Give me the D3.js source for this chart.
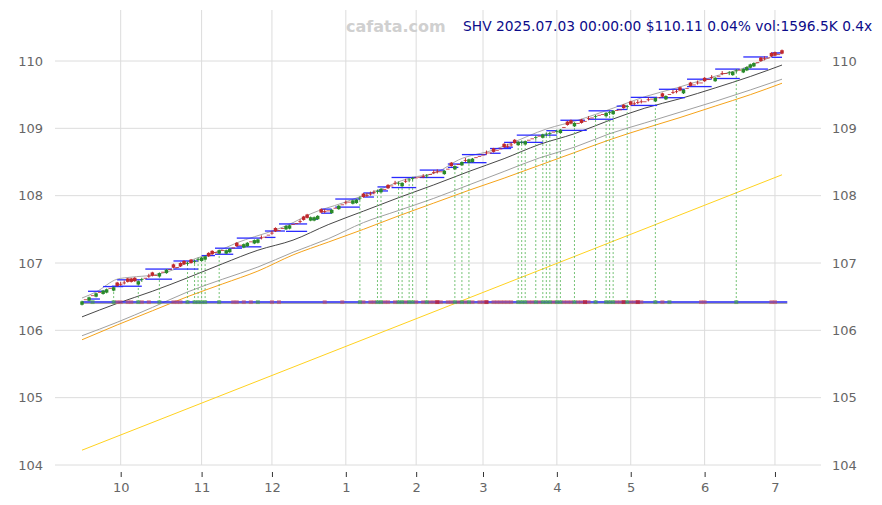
<!DOCTYPE html>
<html><head><meta charset="utf-8">
<script src="https://cdn.jsdelivr.net/npm/d3@7"></script>
<style>body{margin:0;background:#fff;}svg{display:block;font-family:"DejaVu Sans",sans-serif;}</style>
</head><body>
<svg id="chart" width="882" height="505"></svg>
<script>
// ---- DATA (trading-day index 0 = 2024-09-16 ... 199 = 2025-07-03) ----
const closes = [106.43,106.46,106.49,106.52,106.55,106.57,106.59,106.61,106.63,106.64,
106.66,106.68,106.70,106.72,106.72,106.73,106.73,106.76,106.78,106.80,
106.81,106.82,106.85,106.87,106.90,106.91,106.93,106.94,106.95,106.98,
107.00,107.00,107.03,107.06,107.08,107.10,107.10,107.13,107.16,107.19,
107.19,107.19,107.21,107.23,107.25,107.27,107.28,107.30,107.32,107.34,
107.35,107.37,107.39,107.42,107.44,107.47,107.49,107.52,107.55,107.56,
107.58,107.59,107.61,107.64,107.67,107.68,107.68,107.70,107.75,107.76,
107.78,107.79,107.82,107.85,107.87,107.89,107.91,107.93,107.94,107.97,
107.98,108.00,108.02,108.04,108.07,108.10,108.10,108.11,108.15,108.18,
108.19,108.19,108.21,108.24,108.26,108.27,108.28,108.28,108.30,108.32,
108.34,108.35,108.36,108.37,108.40,108.44,108.44,108.47,108.50,108.52,
108.54,108.55,108.57,108.59,108.61,108.63,108.64,108.65,108.68,108.70,
108.72,108.73,108.75,108.78,108.80,108.80,108.81,108.83,108.85,108.87,
108.89,108.91,108.92,108.93,108.95,108.96,108.98,109.02,109.05,109.07,
109.08,109.08,109.08,109.11,109.14,109.16,109.18,109.20,109.21,109.23,
109.24,109.26,109.27,109.28,109.30,109.33,109.35,109.36,109.38,109.39,
109.40,109.42,109.44,109.45,109.46,109.47,109.48,109.51,109.53,109.54,
109.56,109.57,109.60,109.63,109.65,109.67,109.68,109.70,109.73,109.75,
109.75,109.78,109.81,109.82,109.83,109.84,109.86,109.87,109.88,109.91,
109.95,109.97,109.98,110.00,110.03,110.05,110.07,110.08,110.10,110.11];
const opens = [106.38,106.46,106.44,106.52,106.50,106.57,106.54,106.56,106.63,106.59,
106.71,106.69,106.71,106.77,106.77,106.78,106.68,106.75,106.78,106.81,
106.86,106.82,106.80,106.87,106.85,106.91,106.98,106.94,107.00,107.03,
106.99,107.05,107.02,107.05,107.03,107.05,107.15,107.18,107.16,107.14,
107.19,107.14,107.16,107.23,107.30,107.27,107.23,107.25,107.32,107.29,
107.30,107.38,107.39,107.42,107.45,107.52,107.49,107.52,107.50,107.51,
107.58,107.59,107.62,107.69,107.72,107.63,107.63,107.65,107.80,107.77,
107.78,107.74,107.82,107.80,107.87,107.90,107.91,107.88,107.89,107.96,
108.03,108.01,108.03,108.05,108.06,108.05,108.10,108.16,108.15,108.19,
108.18,108.14,108.22,108.23,108.25,108.27,108.28,108.29,108.29,108.32,
108.35,108.36,108.36,108.32,108.40,108.49,108.39,108.47,108.45,108.53,
108.49,108.50,108.57,108.59,108.61,108.64,108.64,108.70,108.68,108.70,
108.77,108.74,108.76,108.83,108.75,108.79,108.76,108.83,108.85,108.86,
108.89,108.86,108.91,108.92,108.95,108.95,108.93,109.02,109.10,109.12,
109.03,109.08,109.13,109.11,109.15,109.16,109.17,109.20,109.21,109.18,
109.23,109.21,109.27,109.28,109.35,109.32,109.40,109.37,109.39,109.40,
109.40,109.43,109.44,109.40,109.46,109.52,109.43,109.51,109.54,109.55,
109.61,109.52,109.60,109.68,109.65,109.68,109.68,109.75,109.73,109.76,
109.70,109.78,109.82,109.82,109.82,109.79,109.85,109.87,109.83,109.86,
109.90,109.92,109.98,110.05,110.04,110.05,110.12,110.13,110.10,110.16];
const highs = [106.44,106.46,106.50,106.52,106.56,106.57,106.60,106.62,106.63,106.65,
106.72,106.72,106.74,106.78,106.78,106.79,106.74,106.78,106.78,106.84,
106.87,106.82,106.86,106.87,106.91,106.91,106.99,106.94,107.01,107.04,
107.02,107.06,107.05,107.08,107.09,107.11,107.16,107.19,107.16,107.20,
107.19,107.20,107.22,107.23,107.31,107.27,107.29,107.31,107.32,107.35,
107.36,107.41,107.39,107.42,107.48,107.53,107.49,107.52,107.56,107.57,
107.58,107.59,107.65,107.70,107.73,107.69,107.69,107.71,107.81,107.80,
107.78,107.80,107.82,107.86,107.87,107.93,107.91,107.94,107.95,107.99,
108.04,108.04,108.06,108.08,108.09,108.11,108.10,108.17,108.15,108.22,
108.21,108.20,108.25,108.26,108.28,108.27,108.28,108.32,108.32,108.32,
108.38,108.39,108.36,108.38,108.40,108.50,108.45,108.47,108.51,108.56,
108.55,108.56,108.57,108.59,108.61,108.67,108.64,108.71,108.68,108.70,
108.78,108.77,108.79,108.84,108.81,108.82,108.82,108.83,108.85,108.89,
108.89,108.92,108.94,108.95,108.95,108.98,108.99,109.02,109.11,109.13,
109.09,109.08,109.14,109.11,109.18,109.16,109.20,109.20,109.21,109.24,
109.26,109.27,109.27,109.28,109.36,109.35,109.41,109.40,109.42,109.43,
109.40,109.46,109.44,109.46,109.46,109.53,109.49,109.51,109.57,109.58,
109.62,109.58,109.60,109.69,109.65,109.71,109.68,109.76,109.73,109.79,
109.76,109.78,109.85,109.82,109.85,109.85,109.88,109.87,109.89,109.92,
109.96,109.98,109.98,110.06,110.07,110.05,110.13,110.14,110.10,110.17];
const lows = [106.37,106.46,106.43,106.52,106.49,106.57,106.53,106.55,106.63,106.58,
106.65,106.66,106.68,106.71,106.71,106.72,106.67,106.72,106.78,106.78,
106.80,106.82,106.79,106.87,106.84,106.91,106.92,106.94,106.94,106.97,
106.96,106.99,106.99,107.02,107.02,107.04,107.09,107.12,107.16,107.13,
107.19,107.13,107.15,107.23,107.24,107.27,107.22,107.24,107.32,107.28,
107.29,107.35,107.39,107.42,107.42,107.46,107.49,107.52,107.49,107.50,
107.58,107.59,107.59,107.63,107.66,107.62,107.62,107.64,107.74,107.74,
107.78,107.73,107.82,107.79,107.87,107.87,107.91,107.87,107.88,107.93,
107.97,107.98,108.00,108.02,108.03,108.04,108.10,108.10,108.15,108.16,
108.15,108.13,108.19,108.20,108.22,108.27,108.28,108.26,108.26,108.32,
108.32,108.33,108.36,108.31,108.40,108.43,108.38,108.47,108.44,108.50,
108.48,108.49,108.57,108.59,108.61,108.61,108.64,108.64,108.68,108.70,
108.71,108.71,108.73,108.77,108.74,108.76,108.75,108.83,108.85,108.83,
108.89,108.85,108.88,108.89,108.95,108.92,108.92,109.02,109.04,109.06,
109.02,109.08,109.07,109.11,109.12,109.16,109.14,109.20,109.21,109.17,
109.20,109.20,109.27,109.28,109.29,109.29,109.34,109.34,109.36,109.37,
109.40,109.40,109.44,109.39,109.46,109.46,109.42,109.51,109.51,109.52,
109.55,109.51,109.60,109.62,109.65,109.65,109.68,109.69,109.73,109.73,
109.69,109.78,109.79,109.82,109.79,109.78,109.82,109.87,109.82,109.85,
109.89,109.91,109.98,109.99,110.01,110.05,110.06,110.07,110.10,110.10];

// month ticks (trading-day index of first session of each month)
const tickIdx    = [11, 34, 54, 75, 95, 114, 135, 156, 177, 197];
const tickLabels = ["10","11","12","1","2","3","4","5","6","7"];
const yTicks = [104,105,106,107,108,109,110];

// indicator lines: [index, value]
const blackLine = [[0,106.20],[10,106.40],[20,106.58],[30,106.78],[40,106.99],[50,107.19],[60,107.34],[70,107.57],[80,107.77],[90,107.97],[100,108.16],[110,108.36],[120,108.55],[130,108.76],[140,108.92],[150,109.12],[160,109.30],[170,109.44],[180,109.60],[190,109.77],[199,109.94]];
const upperGrey = [[0,106.48],[4,106.57],[10,106.76],[14,106.79],[20,106.82],[26,106.90],[31,107.04],[38,107.16],[44,107.30],[49,107.39],[55,107.49],[60,107.60],[65,107.73],[74,107.89],[84,108.08],[93,108.26],[101,108.35],[107,108.53],[117,108.68],[122,108.78],[132,108.99],[141,109.12],[151,109.30],[160,109.47],[169,109.60],[179,109.76],[189,109.91],[199,110.14]];
const lowerGrey = [[0,105.92],[10,106.12],[20,106.34],[30,106.57],[40,106.76],[50,106.94],[60,107.16],[70,107.36],[80,107.60],[90,107.78],[100,107.96],[110,108.16],[120,108.36],[130,108.56],[140,108.72],[150,108.92],[160,109.08],[170,109.24],[180,109.40],[190,109.57],[199,109.73]];
const orangeLine = [[0,105.86],[10,106.08],[20,106.29],[30,106.50],[40,106.69],[50,106.88],[60,107.12],[70,107.31],[80,107.50],[90,107.70],[100,107.89],[110,108.08],[120,108.26],[130,108.45],[140,108.64],[150,108.83],[160,109.00],[170,109.16],[180,109.33],[190,109.50],[199,109.67]];
const yellowLine = [[0,104.22],[199,108.31]];

// level segments: [startIndex, endIndex, price]
const levels = [[1.7,7.4,106.58],[1.7,5.1,106.465],[6,11.7,106.65],[10,17,106.75],[8.5,17,106.655],[18,25.6,106.91],[18,25.6,106.76],[26,33,107.03],[26,33,106.91],[34,37.8,107.11],[37.8,45.5,107.22],[37.8,43,107.13],[44,51,107.37],[44,51,107.24],[52,57.7,107.475],[52,55,107.38],[56,64,107.58],[58,64,107.47],[65,67,107.65],[68,71,107.80],[68,71,107.74],[72,79,107.95],[72,79,107.83],[80,83,108.04],[80,83,107.98],[84,87.5,108.13],[84,87,108.07],[88,95,108.27],[88,95,108.12],[96,103,108.38],[96,103,108.27],[104,108,108.47],[104,107,108.42],[108,115,108.61],[108,115,108.49],[116,122,108.70],[116,119,108.63],[120,131,108.79],[120,122.5,108.72],[123.6,135,108.90],[132,135,108.965],[136,143.5,108.97],[136,143,109.12],[144,151,109.135],[144,151,109.26],[152,155,109.28],[152,155,109.33],[156,163.5,109.46],[156,163.5,109.34],[164,171.4,109.58],[164,171.4,109.455],[172,179,109.73],[172,179,109.62],[180,187,109.88],[180,187,109.74],[188,195,110.06],[188,195,109.88],[196,199,110.12],[196,199,110.055]];

// baseline and event markers
const baseLevel = 106.42;
const greenEvents = [9,16,22,30,32,33,34,35,39,79,84,85,90,91,93,94,98,106,108,110,124,125,126,129,131,132,133,135,136,140,146,149,150,151,155,163,186];
const greenMarks = [3,50,167];
const redMarks = [10,11,13,14,17,19,26,27,28,43,44,46,48,54,56,69,74,80,82,83,86,87,89,92,95,97,99,100,102,104,105,107,109,111,113,114,117,118,119,120,121,122,127,128,130,134,137,138,139,141,142,144,152,153,156,157,159,165,176,177,196,197];
const darkRedMarks = [101,115,143,154,158];

const titleText = "SHV 2025.07.03 00:00:00 $110.11 0.04% vol:1596.5K 0.4x";

// ---- DRAW ----
const svg = d3.select("#chart");
const x = d3.scaleLinear().domain([0, 199]).range([82, 782]);
const y = d3.scaleLinear().domain([104, 110]).range([465, 61]);

const grid = svg.append("g");
grid.selectAll("line.h").data(yTicks).join("line")
  .attr("x1", 55).attr("x2", 821).attr("y1", d => y(d)).attr("y2", d => y(d))
  .attr("stroke", "#dcdcdc").attr("stroke-width", 1);
grid.selectAll("line.v").data(tickIdx).join("line")
  .attr("x1", d => x(d)).attr("x2", d => x(d)).attr("y1", 10).attr("y2", 465)
  .attr("stroke", "#dcdcdc").attr("stroke-width", 1);

// axes
const xAxis = d3.axisBottom(x).tickValues(tickIdx).tickFormat((d, i) => tickLabels[i]).tickSize(5).tickPadding(6);
const gx = svg.append("g").attr("transform", "translate(0,472)").call(xAxis);
gx.select(".domain").remove();
gx.selectAll(".tick line").attr("stroke", "#333");
gx.selectAll("text").attr("fill", "#666").style("font-size", "13px").style("font-family", "DejaVu Sans");

const yL = d3.axisLeft(y).tickValues(yTicks).tickFormat(d3.format("d")).tickSize(0).tickPadding(0);
const gl = svg.append("g").attr("transform", "translate(43,0)").call(yL);
gl.select(".domain").remove();
gl.selectAll("text").attr("fill", "#666").style("font-size", "13px").style("font-family", "DejaVu Sans");
const yR = d3.axisRight(y).tickValues(yTicks).tickFormat(d3.format("d")).tickSize(0).tickPadding(0);
const gr = svg.append("g").attr("transform", "translate(832,0)").call(yR);
gr.select(".domain").remove();
gr.selectAll("text").attr("fill", "#666").style("font-size", "13px").style("font-family", "DejaVu Sans");

const line = d3.line().x(d => x(d[0])).y(d => y(d[1])).curve(d3.curveMonotoneX);
function drawLine(data, color, w) {
  svg.append("path").datum(data).attr("d", line).attr("fill", "none")
    .attr("stroke", color).attr("stroke-width", w);
}
drawLine(yellowLine, "#ffd21f", 1);
drawLine(orangeLine, "#f5a31a", 1);
drawLine(lowerGrey, "#a0a0a0", 1);
drawLine(upperGrey, "#a8a8a8", 1);
drawLine(blackLine, "#333333", 0.9);

// baseline
svg.append("line").attr("x1", x(0)).attr("x2", x(200.5)).attr("y1", y(baseLevel) + 1.3).attr("y2", y(baseLevel) + 1.3)
  .attr("stroke", "#999").attr("stroke-width", 1);
svg.append("line").attr("x1", x(0)).attr("x2", x(200.5)).attr("y1", y(baseLevel)).attr("y2", y(baseLevel))
  .attr("stroke", "#2323f0").attr("stroke-width", 1.4);

// markers
const by = y(baseLevel);
svg.append("g").selectAll("rect").data(redMarks).join("rect")
  .attr("x", d => x(d) - 2).attr("y", by - 2).attr("width", 4).attr("height", 4)
  .attr("fill", "rgba(200,70,90,0.5)");
svg.append("g").selectAll("rect").data(darkRedMarks).join("rect")
  .attr("x", d => x(d) - 2).attr("y", by - 2).attr("width", 4).attr("height", 4)
  .attr("fill", "rgba(190,30,50,0.8)");
svg.append("g").selectAll("rect").data(greenEvents.concat(greenMarks)).join("rect")
  .attr("x", d => x(d) - 2).attr("y", by - 2).attr("width", 4).attr("height", 4)
  .attr("fill", "rgba(60,160,60,0.55)");

// event dotted lines
svg.append("g").selectAll("line").data(greenEvents).join("line")
  .attr("x1", d => x(d)).attr("x2", d => x(d)).attr("y1", by).attr("y2", d => y(lows[d]))
  .attr("stroke", "#5cb85c").attr("stroke-width", 1).attr("stroke-dasharray", "2,2").attr("opacity", 0.85);

// level segments
svg.append("g").selectAll("line").data(levels).join("line")
  .attr("x1", d => x(d[0])).attr("x2", d => x(d[1])).attr("y1", d => y(d[2])).attr("y2", d => y(d[2]))
  .attr("stroke", "#2a2aff").attr("stroke-width", 1.3);

// candles
const idx = d3.range(closes.length);
const col = i => closes[i] > opens[i] ? "#2a8a2a" : "#c0282d";
const cg = svg.append("g");
cg.selectAll("line").data(idx).join("line")
  .attr("x1", i => x(i)).attr("x2", i => x(i)).attr("y1", i => y(highs[i])).attr("y2", i => y(lows[i]))
  .attr("stroke", col).attr("stroke-width", 1);
cg.selectAll("rect").data(idx).join("rect")
  .attr("x", i => x(i) - 1.75).attr("width", 3.5)
  .attr("y", i => y(Math.max(opens[i], closes[i])))
  .attr("height", i => Math.max(0.8, Math.abs(y(opens[i]) - y(closes[i]))))
  .attr("fill", col);

// titles
svg.append("text").attr("x", 346).attr("y", 32).text("cafata.com")
  .attr("fill", "#d0d0d0").style("font-size", "16px").style("font-weight", "bold").style("font-family", "DejaVu Sans");
svg.append("text").attr("x", 463).attr("y", 31).text(titleText)
  .attr("fill", "#0c0c8a").style("font-size", "13.8px").style("font-family", "DejaVu Sans");
</script>
</body></html>
